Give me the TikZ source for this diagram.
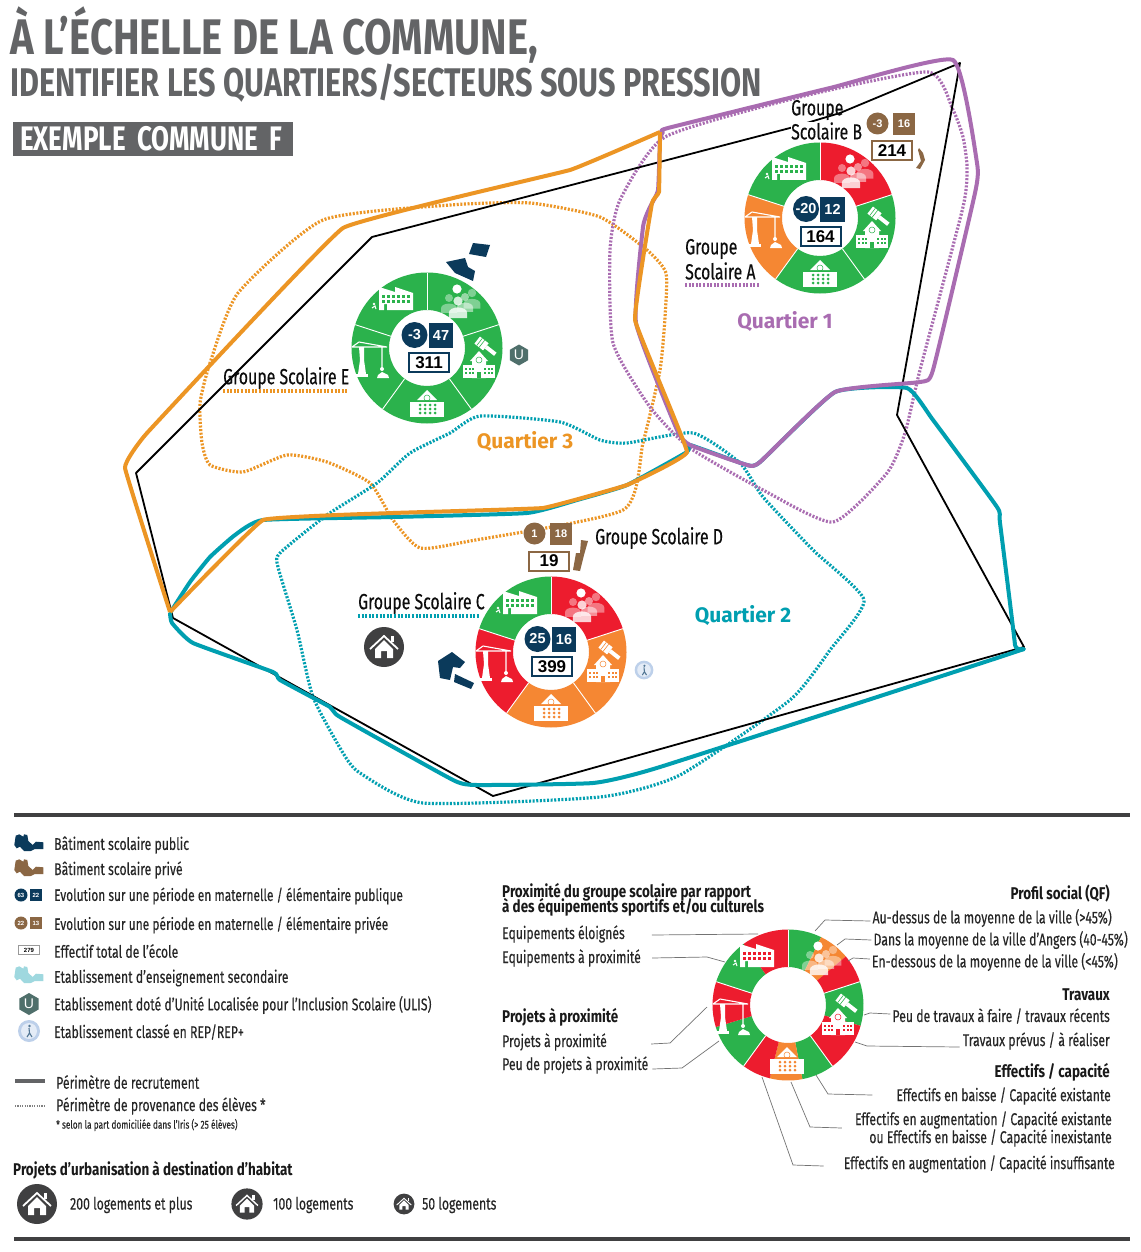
\documentclass[tikz,border=0pt]{standalone}
\usepackage{fontspec}
\usetikzlibrary{shapes.geometric}
\setmainfont[FakeStretch=0.72,FakeBold=0.25]{Fira Sans}
\newfontfamily\numfont{Liberation Sans}
\newfontfamily\headfont[FakeStretch=0.79]{Fira Sans}
\newfontfamily\titlea[FakeStretch=0.8]{Fira Sans}
\newfontfamily\titleb[FakeStretch=0.765]{Fira Sans}
\newfontfamily\quartfont[FakeStretch=1.0]{Fira Sans}
\newcommand{\sz}[1]{\fontsize{#1}{#1}\selectfont}
\definecolor{cgreen}{HTML}{2BB24C}
\definecolor{cred}{HTML}{ED1C2E}
\definecolor{corange}{HTML}{F58733}
\definecolor{cnavy}{HTML}{0B3A5B}
\definecolor{cbrown}{HTML}{8B6744}
\definecolor{cteal}{HTML}{009FB0}
\definecolor{cpurple}{HTML}{A96CB1}
\definecolor{cquart}{HTML}{EC9524}
\definecolor{cdark}{HTML}{404041}
\definecolor{cgris}{HTML}{636466}
\definecolor{cpale}{HTML}{9FD8DF}
\definecolor{crep}{HTML}{BDD0EA}
\definecolor{chex}{HTML}{4F6F6B}
\tikzset{
  zone/.style={line width=4pt,line join=round},
  dots/.style={line width=3.2pt,dash pattern=on 2pt off 1.6pt},
  item/.style={anchor=west,inner sep=0pt,yshift=-1pt,font=\sz{17},text=black!85},
  itemr/.style={anchor=east,inner sep=0pt,yshift=-1pt,font=\sz{17},text=black!85},
  head/.style={anchor=west,inner sep=0pt,yshift=-1pt,font=\headfont\bfseries\sz{17},text=black!90},
  headr/.style={anchor=east,inner sep=0pt,yshift=-1pt,font=\headfont\bfseries\sz{17},text=black!90},
  groupe/.style={anchor=west,inner sep=0pt,yshift=-1pt,font=\sz{22},text=black!95,align=left},
  quart/.style={inner sep=0pt,font=\quartfont\bfseries\sz{21}},
  lead/.style={draw=black!55,line width=0.7pt},
  round/.style={circle,fill=#1,text=white,inner sep=0pt,minimum size=26pt,font=\numfont\bfseries\sz{14.5}},
  sq/.style={rectangle,fill=#1,text=white,inner sep=0pt,minimum size=24.5pt,font=\numfont\bfseries\sz{14.5}},
  total/.style={rectangle,draw=#1,fill=white,line width=2pt,inner sep=0pt,minimum width=40pt,minimum height=19pt,font=\numfont\bfseries\sz{17},text=black},
  hexu/.style={regular polygon,regular polygon sides=6,shape border rotate=30,fill=chex,text=white,inner sep=0pt,minimum size=22pt,font=\numfont\sz{14}},
  rule/.style={cdark,line width=4pt},
}
% piece of ring, angles turn clockwise on the page
\newcommand{\sect}[5]{\fill[#5] ([shift={(#1,#2)}]#3:75.5) arc (#3:#4:75.5) -- ([shift={(#1,#2)}]#4:38) arc (#4:#3:38) -- cycle;}
\newcommand{\spoke}[3]{\draw[white,line width=0.9pt] ([shift={(#1,#2)}]#3:38) -- ([shift={(#1,#2)}]#3:75.5);}
% icons
\newcommand{\facticon}[3]{\begin{scope}[shift={(#1,#2)}]
  \fill[white] (-17,11) -- (-17,-12) -- (-1,-7) -- (-1,-12) -- (17,-6) -- (17,11) -- (-9,11) -- (-9,5) -- (-12,5) -- (-12,11) -- cycle;
  \foreach \a in {-14,-9,-4,1,6,11}
    \foreach \b in {-4,1} \fill[#3] (\a,\b) rectangle +(3,3);
  \fill[white] (-22,5) circle (1.3);
  \draw[white,line width=1pt] (-24,9) -- (-21,7) -- (-20,10);
\end{scope}}
\newcommand{\person}[4]{\begin{scope}[shift={(#1,#2)},scale=#3]
  \fill[white,fill opacity=#4] (0,0) circle (1) (-2,3.7) -- (-2,2.6) .. controls (-2,1) and (2,1) .. (2,2.6) -- (2,3.7) -- cycle;
\end{scope}}
\newcommand{\peopleicon}[2]{\begin{scope}[shift={(#1,#2)}]
  \person{-8}{-3}{4}{0.4}
  \person{15}{-8}{4.2}{0.4}
  \person{8}{-4}{4}{0.5}
  \fill[white] (0,-12) circle (4.6);
  \person{1}{0}{4.6}{0.8}
\end{scope}}
\newcommand{\schoolicon}[3]{\begin{scope}[shift={(#1,#2)}]
  \fill[white] (-16,0) rectangle (16,13);
  \fill[white] (-9,-4) -- (0,-14) -- (9,-4) -- (7,-4) -- (7,13) -- (-7,13) -- (-7,-4) -- cycle;
  \draw[#3,line width=0.5pt] (0,-5) circle (3);
  \foreach \a in {-14,-10.5,-7,5,8.5,12}
    \foreach \b in {3,7} \fill[#3] (\a,\b) rectangle +(2,2);
  \fill[#3] (-2,7) rectangle (2,13);
\end{scope}}
\newcommand{\brushicon}[3]{\begin{scope}[shift={(#1,#2)},rotate=-38]
  \fill[white] (-7,-4) rectangle (4,5);
  \fill[white] (4,-1.5) rectangle (16,2.5);
  \draw[#3,line width=0.6pt] (-4,-4) -- (-4,5) (-1,-4) -- (-1,5);
\end{scope}}
\newcommand{\kidsicon}[3]{\begin{scope}[shift={(#1,#2)}]
  \fill[white] (-17,-3) rectangle (17,12);
  \fill[white] (-10,-5) -- (0,-15) -- (10,-5) -- cycle;
  \draw[#3,line width=0.5pt] (0,-7) circle (3);
  \foreach \a in {-7,-2,3,8}
    \foreach \b in {0,4,8} \fill[#3] (\a,\b) circle (1.5);
\end{scope}}
\newcommand{\craneicon}[2]{\begin{scope}[shift={(#1,#2)}]
  \draw[white,line width=1.1pt] (-17,-13) -- (18,-13) (-10,-18) -- (-17,-13) (-10,-18) -- (18,-13) (13,-13) -- (13,8);
  \fill[white] (-10,-13) -- (-5,-13) -- (-5,0) -- (-3,14) -- (-11,14) -- (-9,0) -- cycle;
  \fill[white] (-13,14) rectangle (-1,17);
  \fill[white] (13,9) circle (2);
  \fill[white] (13,12) -- (9,15) -- (8,18) -- (20,18) -- (19,15) -- cycle;
\end{scope}}
\newcommand{\houseicon}[3]{\begin{scope}[shift={(#1,#2)},scale=#3]
  \fill[cdark] (0,0) circle (20);
  \draw[white,line width=#3*1.8pt,line join=miter] (-14,2) -- (0,-11) -- (14,2);
  \fill[white] (7,-11) rectangle (10,-5);
  \fill[white] (-9,2) -- (0,-7) -- (9,2) -- (9,11) -- (3,11) -- (3,4) -- (-3,4) -- (-3,11) -- (-9,11) -- cycle;
\end{scope}}
% pupil figures of one school
\newcommand{\badge}[8]{%
  \node[round=#7,#8] (#3c) at (#1-14.5,#2-27.5) {#4};
  \node[sq=#7,#8] (#3s) at (#1+12,#2-27) {#5};
  \node[total=#7] (#3t) at (#1,#2) {#6};
}
% ring with its five pictures
\newcommand{\donut}[7]{%
  \sect{#1}{#2}{-90}{-18}{#3}\sect{#1}{#2}{-18}{54}{#4}\sect{#1}{#2}{54}{126}{#5}
  \sect{#1}{#2}{126}{198}{#6}\sect{#1}{#2}{198}{270}{#7}
  \foreach \g in {-90,-18,54,126,198} {\spoke{#1}{#2}{\g}}
  \peopleicon{#1+30}{#2-47}
  \brushicon{#1+56}{#2-4}{#4}
  \schoolicon{#1+52}{#2+17}{#4}
  \kidsicon{#1}{#2+57}{#5}
  \craneicon{#1-58}{#2+12}
  \facticon{#1-31}{#2-49}{#7}
}
\newcommand{\rep}[3]{\begin{scope}[shift={(#1,#2)},scale=#3]
  \fill[crep] (0,0) circle (11);
  \fill[crep!40] (0,0) circle (8);
  \fill[crep!40!cnavy] (0.5,-5) circle (1.4);
  \draw[crep!40!cnavy,line width=1.1pt] (0,-3) -- (0.5,2) -- (-2,6) (0.5,2) -- (3,6);
\end{scope}}
% outline of a school in the legend
\newcommand{\blob}[2]{\fill[#2] (14.3,845+#1) -- (15.7,835.7+#1) -- (19.3,834.3+#1) -- (23.3,836.7+#1) -- (24,834.3+#1) -- (27.3,835+#1) -- (28.3,841+#1) -- (32.7,845+#1) -- (36,841.7+#1) -- (43.3,842.3+#1) -- (43.3,849+#1) -- (35,849+#1) -- (30.7,851+#1) -- (24,851+#1) -- (20,846.7+#1) -- (16.7,848.3+#1) -- cycle;}
\begin{document}
\begin{tikzpicture}[x=1pt,y=-1pt]
\useasboundingbox (0,0) rectangle (1140,1252);
\fill[white] (0,0) rectangle (1140,1252);
% title
\node[anchor=west,inner sep=0,font=\titlea\bfseries\sz{50},text=cgris] (titre1) at (10,35) {À L’ÉCHELLE DE LA COMMUNE,};
\node[anchor=west,inner sep=0,font=\titleb\bfseries\sz{40},text=cgris] (titre2) at (10,83) {IDENTIFIER LES QUARTIERS/SECTEURS SOUS PRESSION};
\node[anchor=west,fill=cgris,text=white,inner xsep=7pt,inner ysep=0,text width=266pt,minimum height=34pt,font=\titleb\bfseries\sz{34},align=left] (exemple) at (13,139) {EXEMPLE COMMUNE F};
% dotted perimeters
\draw[dots,cquart] plot[smooth cycle,tension=0.35] coordinates {(450,205) (323,220) (238,293) (210,363) (200,403) (202,443) (210,465) (243,472) (287,455) (327,462) (370,483) (393,520) (420,548) (470,541) (623,510) (643,443) (660,370) (665,317) (666,273) (647,250) (600,217) (530,203)};
\draw[dots,cteal] plot[smooth cycle,tension=0.35] coordinates {(280,553) (327,515) (377,483) (410,453) (450,433) (480,416) (560,422) (600,440) (627,443) (693,433) (740,463) (763,497) (813,550) (864,600) (830,650) (790,700) (680,775) (600,797) (423,803) (360,773) (343,753) (313,697) (297,630) (278,567)};
\draw[dots,cpurple] plot[smooth cycle,tension=0.35] coordinates {(665,137) (800,97) (928,72) (953,110) (963,137) (967,167) (963,207) (920,370) (905,433) (887,473) (833,522) (763,490) (690,448) (650,407) (613,343) (610,250) (620,200)};
% recruiting perimeters
\draw[black,line width=1.8pt,line join=round] (136,473) -- (372,237) -- (790,128) -- (840,113) -- (960,63) -- (897,415) -- (1024,647) -- (493,796) -- (173,618) -- cycle;
\draw[zone,cteal] plot[smooth,tension=0.25] coordinates {(170,613) (190,582) (210,557) (235,535) (263,520) (393,517) (527,513) (577,500) (627,485) (687,452) (690,445) (747,465) (760,462) (835,392) (907,388) (933,420) (997,507) (1000,523) (1015,645) (1012,653) (660,767) (593,783) (477,785) (453,780) (340,717) (330,707) (280,680) (273,672) (193,643) (172,623) (170,613)};
\draw[zone,cpurple] plot[smooth cycle,tension=0.25] coordinates {(663,132) (668,128) (830,88) (953,60) (977,163) (975,193) (933,370) (920,382) (835,392) (760,462) (747,465) (690,445) (677,430) (636,323) (643,227) (650,207) (658,190) (660,140)};
\draw[zone,cquart] plot[smooth,tension=0.12] coordinates {(170,612) (125,468) (147,433) (343,228) (570,170) (660,132)};
\draw[zone,cquart] plot[smooth,tension=0.12] coordinates {(660,132) (659,192) (652,203) (635,320) (687,452) (627,485) (543,508) (393,513) (263,520) (170,612)};
% rings
\donut{427}{348}{cgreen}{cgreen}{cgreen}{cgreen}{cgreen}
\donut{820}{218}{cred}{cgreen}{cgreen}{corange}{cgreen}
\donut{551}{652}{cred}{corange}{corange}{cred}{cgreen}
\badge{429}{362.5}{e}{-3}{47}{311}{cnavy}{}
\badge{820.5}{236.5}{a}{-20}{12}{164}{cnavy}{}
\badge{552}{666.5}{c}{25}{16}{399}{cnavy}{}
\badge{892}{151}{b}{-3}{16}{214}{cbrown}{minimum size=22pt,font=\numfont\bfseries\sz{11}}
\badge{549}{561}{d}{1}{18}{19}{cbrown}{minimum size=22pt,font=\numfont\bfseries\sz{11}}
% school buildings
\fill[cnavy] (469,254) -- (473,243) -- (490,245) -- (486,257) -- cycle (446,262) -- (465,258) -- (468,267) -- (475,271) -- (473,281) -- (455,273) -- cycle;
\fill[cnavy] (438,661) -- (452,652) -- (465,662) -- (460,668) -- (453,667) -- (450,680) -- (440,678) -- cycle (455,674) -- (474,683) -- (471,689) -- (454,682) -- cycle;
\fill[cbrown] (581,540) -- (588,541) -- (584,555) -- (580,571) -- (573,570) -- (576,553) -- (580,553) -- cycle;
\fill[cbrown] (919,148) -- (923,153) -- (925,160) -- (920,169) -- (916,168) -- (921,161) -- (918,150) -- cycle;
\node[hexu,minimum size=21pt] (uliscarte) at (519,355) {U};
\rep{644}{670}{0.85}
\houseicon{384}{647}{1}
% group names
\node[groupe] (gse) at (223,377) {Groupe Scolaire E};
\coordinate (gse1) at (348,391);
\draw[dots,cquart] (gse.west |- gse1) -- (gse1);
\node[groupe] (gsb1) at (791,109) {Groupe};
\node[groupe,fill=white] (gsb2) at (791,130) {Scolaire B};
\node[groupe] (gsa1) at (685,248) {Groupe};
\node[groupe] (gsa2) at (685,270) {Scolaire A};
\coordinate (gsa3) at (760,285);
\draw[dots,cpurple] (gsa2.west |- gsa3) -- (gsa3);
\node[groupe] (gsd) at (595,537) {Groupe Scolaire D};
\node[groupe] (gsc) at (358,602) {Groupe Scolaire C};
\coordinate (gsc1) at (480,616);
\draw[dots,cteal] (gsc.west |- gsc1) -- (gsc1);
\node[quart,text=cpurple] (q1) at (785,322) {Quartier 1};
\node[quart,text=cteal] (q2) at (743,616) {Quartier 2};
\node[quart,text=cquart] (q3) at (525,442) {Quartier 3};
% legend
\draw[rule] (14,815) -- (1130,815);
\draw[rule] (14,1239) -- (1130,1239);
\blob{0}{cnavy}
\blob{25}{cbrown}
\blob{132}{cpale}
\node[round=cnavy,minimum size=13pt,font=\numfont\bfseries\sz{6}] (lc1) at (21,895) {63};
\node[sq=cnavy,minimum size=12pt,font=\numfont\bfseries\sz{6}] (ls1) at (36,895) {22};
\node[round=cbrown,minimum size=13pt,font=\numfont\bfseries\sz{6}] (lc2) at (21,923) {22};
\node[sq=cbrown,minimum size=12pt,font=\numfont\bfseries\sz{6}] (ls2) at (36,923) {13};
\node[total=black!40,line width=0.8pt,minimum width=21pt,minimum height=9pt,font=\numfont\bfseries\sz{6}] (lt) at (29,950) {279};
\node[hexu] (lu) at (29,1004) {U};
\rep{29}{1031}{1}
\node[item] (l1) at (54,844) {Bâtiment scolaire public};
\node[item] (l2) at (54,869) {Bâtiment scolaire privé};
\node[item,font=\sz{16.6}] (l3) at (54,895) {Evolution sur une période en maternelle / élémentaire publique};
\node[item,font=\sz{16.6}] (l4) at (54,924) {Evolution sur une période en maternelle / élémentaire privée};
\node[item] (l5) at (54,950) {Effectif total de l’école};
\node[item] (l6) at (54,977) {Etablissement d’enseignement secondaire};
\node[item] (l7) at (54,1004) {Etablissement doté d’Unité Localisée pour l’Inclusion Scolaire (ULIS)};
\node[item] (l8) at (54,1031) {Etablissement classé en REP/REP+};
\node[item] (l9) at (56,1081) {Périmètre de recrutement};
\node[item] (l10) at (56,1105) {Périmètre de provenance des élèves *};
\node[item,font=\sz{11.5}] (l11) at (56,1124) {* selon la part domiciliée dans l’Iris (> 25 élèves)};
\coordinate (lg1) at (15,1081);
\coordinate (lg2) at (45,1081);
\coordinate (lg3) at (15,1106);
\coordinate (lg4) at (45,1106);
\draw[cgris,line width=3.5pt] (lg1) -- (lg2);
\draw[gray,line width=2.5pt,dash pattern=on 1.2pt off 1.2pt] (lg3) -- (lg4);
\node[head] (u0) at (13,1169) {Projets d’urbanisation à destination d’habitat};
\houseicon{37}{1204}{1}
\houseicon{247}{1204}{0.78}
\houseicon{404}{1204}{0.52}
\node[item] (u1) at (70,1204) {200 logements et plus};
\node[item] (u2) at (273,1204) {100 logements};
\node[item] (u3) at (422,1204) {50 logements};
% legend ring
\sect{788}{1005}{-90}{-64}{cgreen}\sect{788}{1005}{-64}{-40}{corange}\sect{788}{1005}{-40}{-18}{cred}
\sect{788}{1005}{-18}{16}{cgreen}\sect{788}{1005}{16}{54}{cred}
\sect{788}{1005}{54}{79}{cgreen}\sect{788}{1005}{79}{104}{corange}\sect{788}{1005}{104}{126}{cred}
\sect{788}{1005}{126}{163}{cgreen}\sect{788}{1005}{163}{198}{cred}
\sect{788}{1005}{198}{234}{cgreen}\sect{788}{1005}{234}{270}{cred}
\foreach \g in {-90,-18,54,126,198} {\spoke{788}{1005}{\g}}
\peopleicon{818}{958}
\brushicon{844}{1001}{cgreen}
\schoolicon{838}{1022}{cred}
\kidsicon{787}{1062}{corange}
\craneicon{730}{1017}
\facticon{757}{956}{cred}
\node[head] (p0a) at (502,891) {Proximité du groupe scolaire par rapport};
\node[head] (p0b) at (502,906) {à des équipements sportifs et/ou culturels};
\node[item] (p1a) at (502,933) {Equipements éloignés};
\node[item] (p2a) at (502,957) {Equipements à proximité};
\node[head] (p3) at (502,1016) {Projets à proximité};
\node[item] (p4) at (502,1041) {Projets à proximité};
\node[item] (p5) at (502,1064) {Peu de projets à proximité};
\node[headr] (r0) at (1110,893) {Profil social (QF)};
\node[itemr] (r1) at (1112,917) {Au-dessus de la moyenne de la ville (>45\%)};
\node[itemr] (r2) at (1128,939) {Dans la moyenne de la ville d’Angers (40-45\%)};
\node[itemr] (r3) at (1118,961) {En-dessous de la moyenne de la ville (<45\%)};
\node[headr] (r4) at (1110,994) {Travaux};
\node[itemr] (r5) at (1110,1015) {Peu de travaux à faire / travaux récents};
\node[itemr] (r6) at (1110,1040) {Travaux prévus / à réaliser};
\node[headr] (r7) at (1110,1071) {Effectifs / capacité};
\node[itemr] (r8) at (1111,1095) {Effectifs en baisse / Capacité existante};
\node[itemr] (r9) at (1112,1119) {Effectifs en augmentation / Capacité existante};
\node[itemr] (r10) at (1112,1137) {ou Effectifs en baisse / Capacité inexistante};
\node[itemr] (r11) at (1115,1163) {Effectifs en augmentation / Capacité insuffisante};
% leaders
\coordinate (a1) at (815,931);
\coordinate (a2) at (837,945);
\coordinate (a3) at (848,961);
\coordinate (a4) at (864,1015);
\coordinate (a5) at (855,1042);
\coordinate (a6) at (816,1075);
\coordinate (a7) at (791,1082);
\coordinate (a8) at (762,1077);
\coordinate (a9) at (758,934);
\coordinate (a10) at (725,962);
\coordinate (a11) at (707,1007);
\coordinate (a12) at (719,1041);
\draw[lead] (r1.west) ++(-2,3) -- (825,920) -- (a1);
\draw[lead] (r2.west) ++(-2,0) -- (845,939) -- (a2);
\draw[lead] (r3.west) ++(-2,-3) -- (853,958) -- (a3);
\draw[lead] (r5.west) ++(-2,-2) -- (870,1013) -- (a4);
\draw[lead] (r6.west) ++(-3,6) -- (867,1046) -- (a5);
\draw[lead] (r8.west) ++(-24,-1) -- (828,1094) -- (a6);
\draw[lead] (r9.west) ++(-13,8) -- (810,1127) -- (a7);
\draw[lead] (r11.west) ++(-20,2) -- (793,1165) -- (a8);
\draw[lead] (p1a.east) ++(27,1) -- (a9);
\draw[lead] (p2a.east) ++(11,0) -- (707,957) -- (a10);
\draw[lead] (p4.east) ++(44,2) -- (670,1043) -- (a11);
\draw[lead] (p5.east) ++(4,4) -- (682,1068) -- (a12);
\end{tikzpicture}
\end{document}
